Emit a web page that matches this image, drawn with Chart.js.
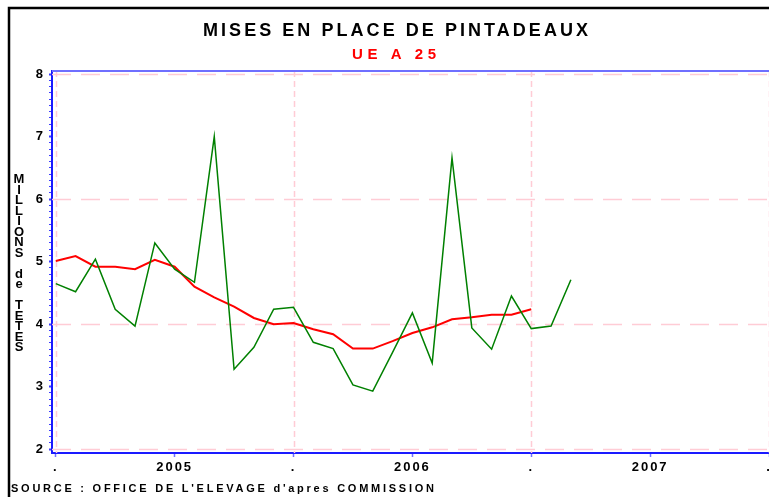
<!DOCTYPE html>
<html>
<head>
<meta charset="utf-8">
<script src="https://cdn.jsdelivr.net/npm/chart.js@4.4.1/dist/chart.umd.min.js"></script>
<style>
  html, body { margin: 0; padding: 0; background: #fff; }
  #zone { width: 769px; height: 497px; }
</style>
</head>
<body>
<div id="zone"><canvas id="pintadeaux" width="769" height="497"></canvas></div>
<script>
// Mois (janvier 2005 -> mars 2007)
const mois = [
  'janv. 2005', 'fevr. 2005', 'mars 2005', 'avr. 2005', 'mai 2005', 'juin 2005',
  'juil. 2005', 'aout 2005', 'sept. 2005', 'oct. 2005', 'nov. 2005', 'dec. 2005',
  'janv. 2006', 'fevr. 2006', 'mars 2006', 'avr. 2006', 'mai 2006', 'juin 2006',
  'juil. 2006', 'aout 2006', 'sept. 2006', 'oct. 2006', 'nov. 2006', 'dec. 2006',
  'janv. 2007', 'fevr. 2007', 'mars 2007'
];

// Mises en place mensuelles (millions de tetes)
const misesEnPlace = [4.65, 4.52, 5.04, 4.24, 3.97, 5.30, 4.88, 4.67, 7.00, 3.28, 3.63, 4.24,
                      4.27, 3.71, 3.61, 3.03, 2.93, 3.55, 4.18, 3.38, 6.66, 3.94, 3.60, 4.45,
                      3.93, 3.97, 4.71];

// Moyenne mobile (courbe rouge)
const moyenneMobile = [5.01, 5.09, 4.92, 4.92, 4.88, 5.03, 4.92, 4.60, 4.43, 4.28, 4.10, 4.00,
                       4.02, 3.92, 3.84, 3.61, 3.61, 3.73, 3.86, 3.95, 4.08, 4.11, 4.15, 4.15,
                       4.24];

// Axe des x : repere en mois depuis janvier 2005
const positionsAxeX = [0, 6, 12, 18, 24, 30, 36];
const etiquettesAxeX = ['.', '2005', '.', '2006', '.', '2007', '.'];
const grilleX = [0, 12, 24, 36];
const grilleY = [2, 4, 6, 8];

const titre = 'MISES EN PLACE DE PINTADEAUX';
const sousTitre = 'UE A 25';
const titreAxeY = 'MILLIONS de TETES';
const source = "SOURCE : OFFICE DE L'ELEVAGE d'apres COMMISSION";

const police = "'Liberation Sans', Arial, sans-serif";

// texte etire entre deux bords
function texteEspace(ctx, texte, font, gauche, droite, base, couleur) {
    ctx.save();
    ctx.font = font;
    ctx.letterSpacing = '0px';
    const w = ctx.measureText(texte).width;
    const esp = (droite - gauche - w) / (texte.length - 1);
    ctx.letterSpacing = esp + 'px';
    ctx.fillStyle = couleur;
    ctx.textAlign = 'left';
    ctx.textBaseline = 'alphabetic';
    ctx.fillText(texte, gauche, base);
    ctx.restore();
}

const decor = {
    id: 'decor',
    beforeDraw(chart) {
        chart.ctx.letterSpacing = '2px';
    },
    beforeDatasetsDraw(chart) {
        const ctx = chart.ctx;
        const { left, right, top, bottom } = chart.chartArea;
        const x = chart.scales.x, y = chart.scales.y;
        ctx.save();
        ctx.strokeStyle = '#ffccd5';
        ctx.lineWidth = 1.5;
        ctx.setLineDash([19, 10]);
        grilleY.forEach(v => {
            const py = Math.round(y.getPixelForValue(v)) + 0.5;
            ctx.beginPath(); ctx.moveTo(left, py); ctx.lineTo(right, py); ctx.stroke();
        });
        ctx.setLineDash([6, 4]);
        grilleX.forEach(v => {
            const px = Math.round(x.getPixelForValue(v)) + 0.5;
            ctx.beginPath(); ctx.moveTo(px, top); ctx.lineTo(px, bottom); ctx.stroke();
        });
        ctx.restore();
    },
    afterDraw(chart) {
        const ctx = chart.ctx;
        const { left, right, top } = chart.chartArea;
        ctx.save();
        ctx.letterSpacing = '0px';
        // ligne bleue du haut
        ctx.strokeStyle = '#6f6fff';
        ctx.lineWidth = 2;
        ctx.beginPath(); ctx.moveTo(left, top); ctx.lineTo(right, top); ctx.stroke();
        // cadre noir
        ctx.strokeStyle = '#000';
        ctx.lineWidth = 2.5;
        ctx.beginPath(); ctx.moveTo(9, 497); ctx.lineTo(9, 8); ctx.lineTo(769, 8); ctx.stroke();
        ctx.restore();

        texteEspace(ctx, titre, 'bold 18px ' + police, 203, 588, 36, '#000');
        texteEspace(ctx, sousTitre, 'bold 15px ' + police, 352, 436, 59, '#ff0000');
        texteEspace(ctx, source, 'bold 11px ' + police, 11, 434, 492, '#000');

        // titre vertical, lettres empilees
        ctx.save();
        ctx.letterSpacing = '0px';
        ctx.font = 'bold 13px ' + police;
        ctx.fillStyle = '#000';
        ctx.textAlign = 'center';
        let yb = 183;
        for (const c of titreAxeY) {
            if (c !== ' ') ctx.fillText(c, 19, yb);
            yb += 10.5;
        }
        ctx.restore();
    }
};

const ctx = document.getElementById('pintadeaux').getContext('2d');
new Chart(ctx, {
    type: 'line',
    data: {
        datasets: [{
            label: 'Mises en place',
            data: misesEnPlace.map((v, i) => ({ x: i, y: v, mois: mois[i] })),
            borderColor: '#008000',
            borderWidth: 1.5,
            pointRadius: 0,
            tension: 0
        }, {
            label: 'Moyenne mobile',
            data: moyenneMobile.map((v, i) => ({ x: i, y: v, mois: mois[i] })),
            borderColor: '#ff0000',
            borderWidth: 2,
            pointRadius: 0,
            tension: 0
        }]
    },
    options: {
        responsive: false,
        animation: false,
        devicePixelRatio: 1,
        layout: { padding: { top: 71, left: 0, right: 0, bottom: 0 } },
        plugins: {
            legend: { display: false },
            tooltip: { enabled: false }
        },
        scales: {
            x: {
                type: 'linear',
                min: -0.19,
                max: 36,
                afterBuildTicks: s => { s.ticks = positionsAxeX.map(v => ({ value: v })); },
                afterFit: s => { s.height = 44; s.paddingLeft = 0; s.paddingRight = 0; },
                ticks: {
                    autoSkip: false,
                    maxRotation: 0,
                    padding: 3,
                    color: '#000',
                    font: { family: police, weight: 'bold', size: 13 },
                    callback: (v, i) => etiquettesAxeX[i]
                },
                grid: { drawOnChartArea: false, tickLength: 4, tickColor: '#6f6fff', tickWidth: 1.5 },
                border: { color: '#1a1aff', width: 2 }
            },
            y: {
                min: 1.94,
                max: 8.05,
                afterBuildTicks: s => {
                    const t = [];
                    for (let k = 20; k <= 80; k++) t.push({ value: k / 10 });
                    s.ticks = t;
                },
                afterFit: s => { s.width = 52; s.paddingTop = 0; s.paddingBottom = 0; },
                ticks: {
                    autoSkip: false,
                    padding: 4,
                    color: '#000',
                    font: { family: police, weight: 'bold', size: 13 },
                    callback: v => Math.abs(v - Math.round(v)) < 1e-6 ? String(Math.round(v)) : ''
                },
                grid: {
                    drawOnChartArea: false,
                    tickLength: 3,
                    tickColor: '#3a3aff',
                    tickWidth: c => (Math.abs(c.tick.value - Math.round(c.tick.value)) < 1e-6 ? 2 : 1)
                },
                border: { color: '#1a1aff', width: 2 }
            }
        }
    },
    plugins: [decor]
});
</script>
</body>
</html>
